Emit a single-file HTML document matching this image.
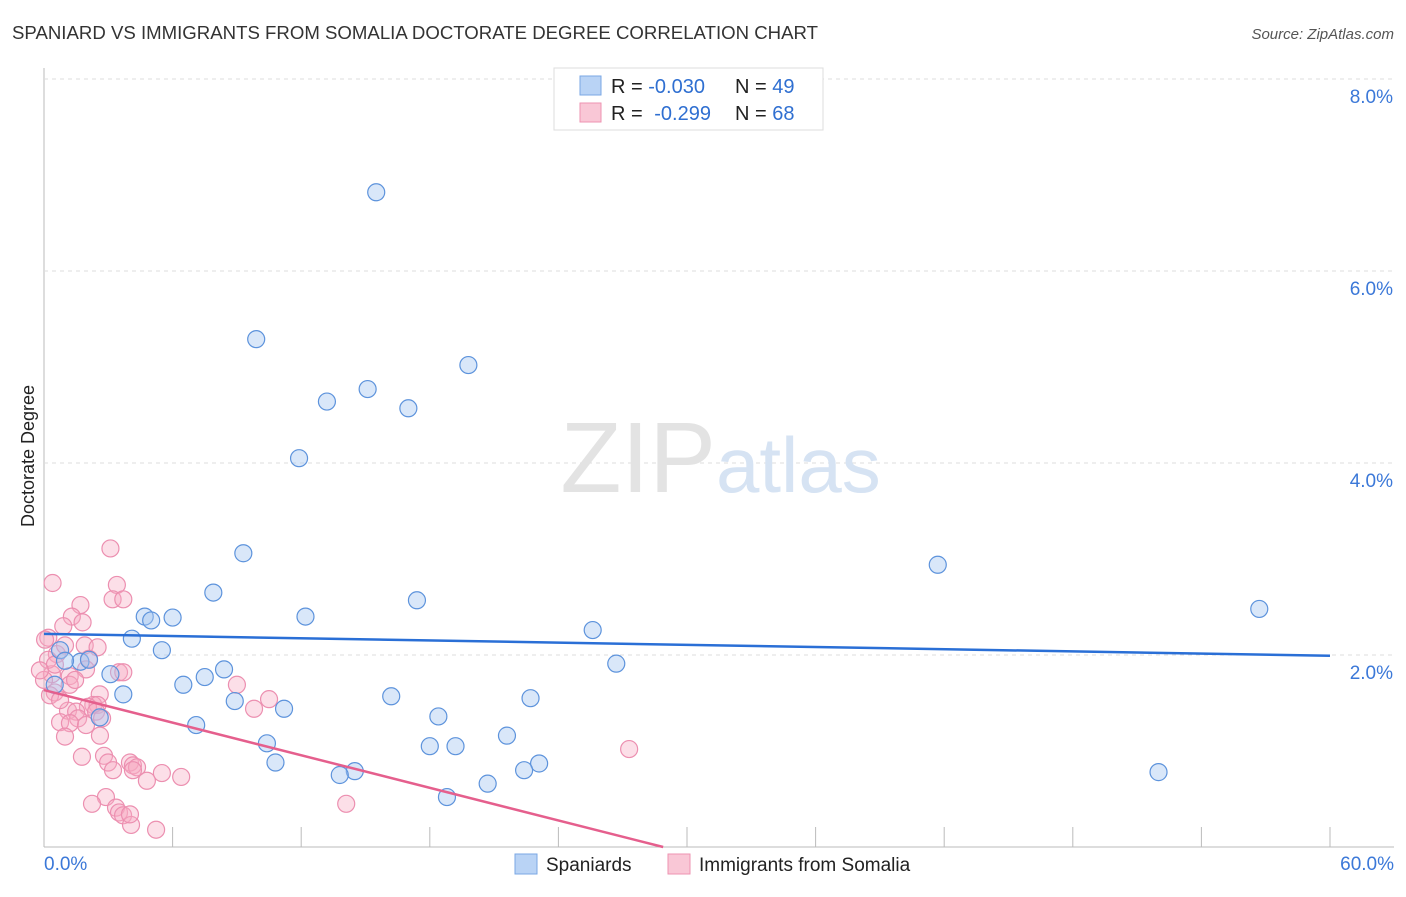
<!DOCTYPE html>
<html><head><meta charset="utf-8"><style>
body{margin:0;background:#fff;font-family:"Liberation Sans",sans-serif}
svg text{font-family:"Liberation Sans",sans-serif}
</style></head><body>
<svg id="chart" width="1406" height="892">
<text x="12" y="39" font-size="18" fill="#333" textLength="806" lengthAdjust="spacingAndGlyphs">SPANIARD VS IMMIGRANTS FROM SOMALIA DOCTORATE DEGREE CORRELATION CHART</text>
<text x="1394" y="39" font-size="15" font-style="italic" fill="#555" text-anchor="end">Source: ZipAtlas.com</text>
<text transform="translate(34,456) rotate(-90)" font-size="18" fill="#222" text-anchor="middle">Doctorate Degree</text>
<g id="grid"></g>
<text x="716" y="492" font-size="100" fill="#e3e3e3" text-anchor="end" font-family="Liberation Serif">ZIP</text>
<text x="716" y="492" font-size="78" fill="#d6e3f3">atlas</text>
<g id="pts"></g>
<g id="lines"></g>
<g>
<rect x="554" y="68" width="269" height="62" fill="#fff" stroke="#ddd"/>
<rect x="580" y="76" width="21" height="19" fill="#b9d3f5" stroke="#7aa7e4"/>
<rect x="580" y="103" width="21" height="19" fill="#f9c7d6" stroke="#ee93b1"/>
<text x="611" y="93" font-size="20" fill="#222">R = <tspan fill="#2f6fd1">-0.030</tspan><tspan x="735">N = </tspan><tspan fill="#2f6fd1">49</tspan></text>
<text x="611" y="120" font-size="20" fill="#222">R = <tspan fill="#2f6fd1" dx="6">-0.299</tspan><tspan x="735">N = </tspan><tspan fill="#2f6fd1">68</tspan></text>
</g>
<g>
<rect x="515" y="854" width="22" height="20" fill="#b9d3f5" stroke="#7aa7e4"/>
<text x="546" y="871" font-size="19" fill="#222">Spaniards</text>
<rect x="668" y="854" width="22" height="20" fill="#f9c7d6" stroke="#ee93b1"/>
<text x="699" y="871" font-size="19" fill="#222">Immigrants from Somalia</text>
</g>
</svg>
<script>
const xTicks=[0,6,12,18,24,30,36,42,48,54,60];
const yTicks=[2,4,6,8];
const xLabels=["0.0%","60.0%"];
const blueX=[15.5,9.9,19.8,13.2,15.1,17.0,11.9,9.3,41.7,7.9,17.4,56.7,4.7,5.0,6.0,12.2,25.6,4.1,5.5,26.7,8.4,3.1,7.5,6.5,3.7,16.2,22.7,8.9,11.2,18.4,7.1,21.6,10.4,18.0,19.2,10.8,23.1,14.5,13.8,22.4,52.0,20.7,18.8,0.75,1.7,2.1,0.98,0.5,2.6];
const blueY=[6.82,5.29,5.02,4.64,4.77,4.57,4.05,3.06,2.94,2.65,2.57,2.48,2.40,2.36,2.39,2.40,2.26,2.17,2.05,1.91,1.85,1.80,1.77,1.69,1.59,1.57,1.55,1.52,1.44,1.36,1.27,1.16,1.08,1.05,1.05,0.88,0.87,0.79,0.75,0.80,0.78,0.66,0.52,2.05,1.93,1.95,1.94,1.69,1.35];
const pinkX=[3.1,0.4,3.4,3.2,3.7,1.7,1.3,1.8,0.9,0.2,1.9,2.5,0.6,2.1,3.5,3.7,1.2,1.96,0.37,0.5,1.2,2.6,9.0,10.5,9.8,2.3,2.5,2.05,1.12,1.5,2.43,0.75,1.59,1.21,2.71,1.96,0.98,2.61,2.8,1.77,2.99,3.22,4.01,4.15,4.34,4.15,5.5,6.4,4.8,27.3,14.1,2.89,2.24,3.36,3.5,3.69,4.06,4.01,5.23,0.19,0,0.28,0.75,0.51,0.05,0.98,1.45,-0.19];
const pinkY=[3.11,2.75,2.73,2.58,2.58,2.52,2.40,2.34,2.30,2.18,2.10,2.08,2.01,1.96,1.82,1.82,1.78,1.85,1.80,1.61,1.69,1.59,1.69,1.54,1.44,1.48,1.48,1.46,1.42,1.41,1.41,1.30,1.34,1.29,1.34,1.27,1.15,1.16,0.95,0.94,0.88,0.80,0.88,0.85,0.83,0.80,0.77,0.73,0.69,1.02,0.45,0.52,0.45,0.41,0.36,0.33,0.23,0.34,0.18,1.95,1.74,1.58,1.53,1.90,2.16,2.10,1.74,1.84];
const blueFit=[2.22,-0.0038];
const pinkFit=[1.635,-0.0566];
const X=v=>44+v/60*1286, Y=v=>847-96*v;
const NS="http://www.w3.org/2000/svg";
function mk(t,a,p){const e=document.createElementNS(NS,t);for(const k in a)e.setAttribute(k,a[k]);p.appendChild(e);return e;}
const grid=document.getElementById('grid');
let ax=mk('line',{x1:44,y1:68,x2:44,y2:847,stroke:'#bbb'},grid);


let bx=mk('line',{x1:44,y1:847,x2:1394,y2:847,stroke:'#bbb'},grid);


xTicks.forEach(v=>{const l=mk('line',{x1:X(v),y1:827,x2:X(v),y2:847,stroke:'#bbb'},grid);

});
yTicks.forEach(v=>{const l=mk('line',{x1:44,y1:Y(v),x2:1394,y2:Y(v),stroke:'#ddd','stroke-dasharray':'4 4'},grid);


const t=mk('text',{x:1393,y:Y(v)+24,'font-size':19,fill:'#3b78d8','text-anchor':'end'},grid);t.textContent=v.toFixed(1)+'%';

});
[[0,'start',44],[60,'end',1394]].forEach((d,i)=>{const t=mk('text',{x:d[2],y:870,'font-size':19,fill:'#3b78d8','text-anchor':d[1]},grid);t.textContent=xLabels[i];

});
const pts=document.getElementById('pts');
pinkX.forEach((x,i)=>{const c=mk('circle',{cx:X(x),cy:Y(pinkY[i]),r:8.5,fill:'rgba(246,170,195,0.38)',stroke:'#ec8fb0','stroke-width':1.2},pts);

});
blueX.forEach((x,i)=>{const c=mk('circle',{cx:X(x),cy:Y(blueY[i]),r:8.5,fill:'rgba(165,198,240,0.42)',stroke:'#5d93dc','stroke-width':1.2},pts);

});
const lines=document.getElementById('lines');
let bl=mk('line',{x1:X(0),y1:Y(blueFit[0]),x2:X(60),y2:Y(blueFit[0]+blueFit[1]*60),stroke:'#2a6fd6','stroke-width':2.5},lines);


const pend=-pinkFit[0]/pinkFit[1];
let pl=mk('line',{x1:X(0),y1:Y(pinkFit[0]),x2:X(pend),y2:Y(0),stroke:'#e55f8d','stroke-width':2.5},lines);


</script>
</body></html>
